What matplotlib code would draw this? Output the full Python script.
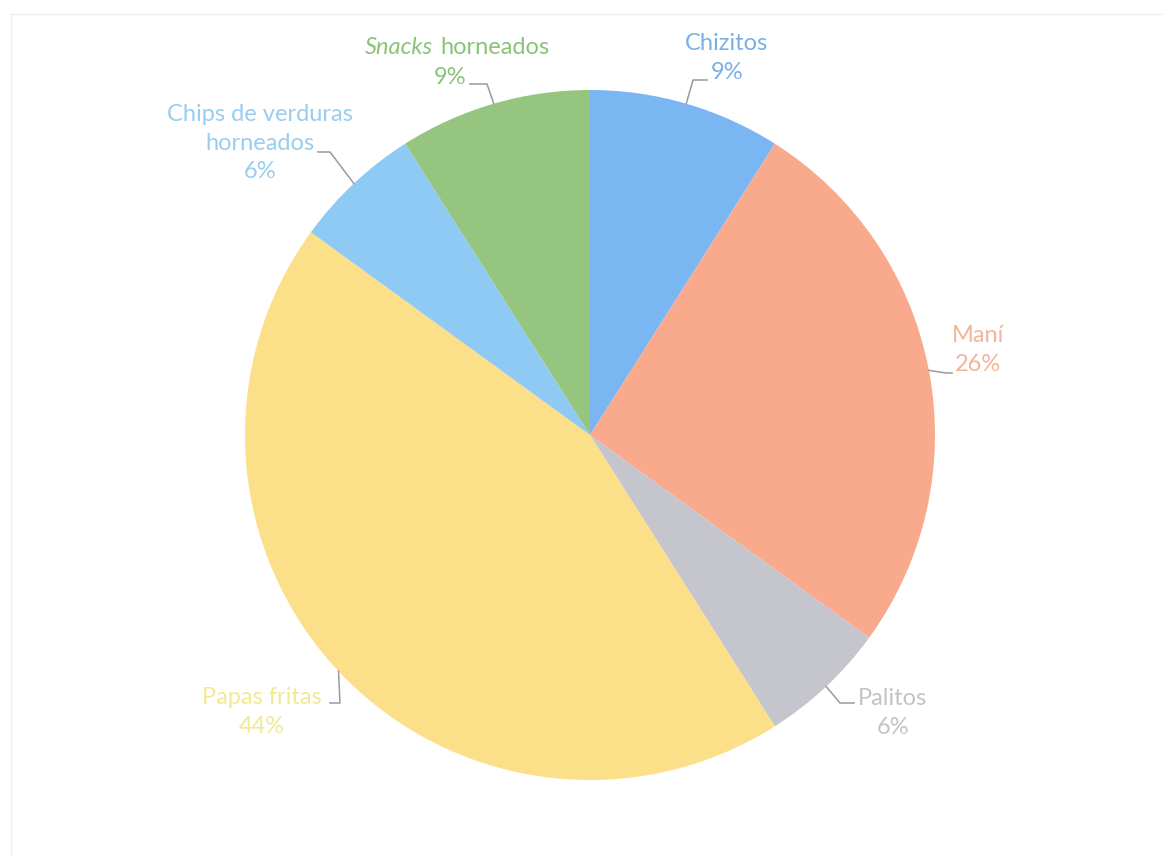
import numpy as np
import matplotlib.pyplot as plt
from matplotlib.lines import Line2D

# slices clockwise from 12 o'clock
labels = ['Chizitos', 'Maní', 'Palitos', 'Papas fritas',
          'Chips de verduras\nhorneados', 'Snacks horneados']
values = [9, 26, 6, 44, 6, 9]
slice_colors = ['#7AB6F2', '#F9AA8C', '#C4C5CD', '#FBDF89', '#8ECAF4', '#95C57F']
text_colors = ['#78B0E6', '#F3B49A', '#C2C2C9', '#F2E994', '#98CDF0', '#8AC276']

W, H = 1169, 856
fig = plt.figure(figsize=(W / 100, H / 100), dpi=100)
plt.rcParams['font.family'] = ['Lato', 'DejaVu Sans']

# pie center (590, 435) px, radius 345 px
cx, cy, r = 590, 435, 345
ax = fig.add_axes([(cx - r) / W, (H - cy - r) / H, 2 * r / W, 2 * r / H])
wedges, _ = ax.pie(values, colors=slice_colors, startangle=90, counterclock=False,
                   radius=1.0, wedgeprops=dict(linewidth=0))
ax.set_xlim(-1, 1)
ax.set_ylim(-1, 1)
ax.set_aspect('equal')
ax.axis('off')


def px(x, y):
    # pixel position -> data coords of the pie axes
    return (x - cx) / r, (cy - y) / r


# label layout: text center (px) and leader elbow / end (px)
text_pos = [(727, 58), (978, 350), (893, 713), (262, 712), (260, 143), None]
elbows = [[(693, 80), (707, 80)],
          [(946, 373), (952, 373)],
          [(840, 703), (854, 703)],
          [(340, 703), (330, 703)],
          [(330, 152), (318, 152)],
          [(487, 84), (470, 84)]]
line_c = '#9A9A9A'
fs = 17

for i, w in enumerate(wedges):
    ang = np.deg2rad((w.theta1 + w.theta2) / 2)
    ex, ey = np.cos(ang), np.sin(ang)
    pts = [(ex, ey)] + [px(*p) for p in elbows[i]]
    xs, ys = zip(*pts)
    ax.add_line(Line2D(xs, ys, color=line_c, lw=1.1, clip_on=False))
    pct = f'{values[i]}%'
    if text_pos[i] is not None:
        tx, ty = px(*text_pos[i])
        ax.text(tx, ty, labels[i] + '\n' + pct, ha='center', va='center',
                fontsize=fs, color=text_colors[i], linespacing=1.42,
                clip_on=False)

# Snacks horneados: "Snacks" in italics
sx, sy = px(433, 47)
ax.text(sx, sy, 'Snacks', ha='right', va='center', fontsize=fs,
        style='italic', color=text_colors[5], clip_on=False)
sx2, _ = px(440, 47)
ax.text(sx2, sy, 'horneados', ha='left', va='center', fontsize=fs,
        color=text_colors[5], clip_on=False)
px5, py5 = px(450, 77)
ax.text(px5, py5, f'{values[5]}%', ha='center', va='center', fontsize=fs,
        color=text_colors[5], clip_on=False)

# faint page frame from the scan
fig.add_artist(Line2D([11 / W, 1162 / W], [1 - 14 / H, 1 - 14 / H], color='#EBEBEB', lw=1))
fig.add_artist(Line2D([11 / W, 11 / W], [0, 1 - 14 / H], color='#EFEFEF', lw=1))

fig.savefig('out.png', dpi=100)
